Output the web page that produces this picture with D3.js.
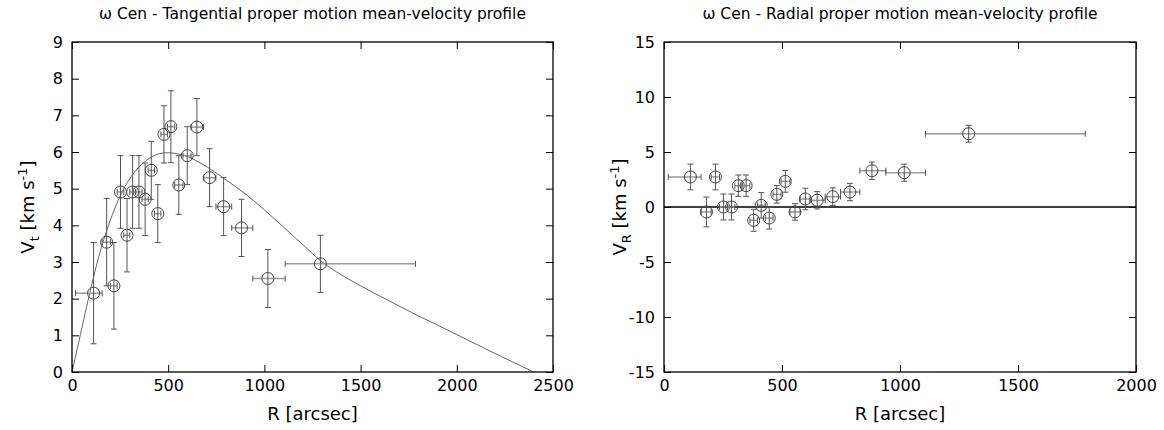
<!DOCTYPE html>
<html>
<head>
<meta charset="utf-8">
<script src="https://cdn.jsdelivr.net/npm/d3@7"></script>
<style>
  body { margin: 0; background: #fff; }
  text { font-family: "DejaVu Sans", sans-serif; fill: #000; }
</style>
</head>
<body>
<svg id="chart" width="1164" height="430"></svg>
<script>
// radial bins shared by both profiles
const binR = [112, 180, 218, 252, 286, 315, 348, 380, 412, 446, 478, 514, 555, 599, 649, 715, 788, 881, 1018, 1291];
const binEdges = [18, 157, 200, 235, 269, 300, 331, 364, 396, 429, 462, 496, 534, 577, 619, 683, 748, 830, 940, 1108, 1785];

// tangential mean velocity
const tanV = [2.15, 3.54, 2.35, 4.91, 3.73, 4.91, 4.91, 4.71, 5.50, 4.32, 6.48, 6.69, 5.10, 5.90, 6.68, 5.30, 4.51, 3.93, 2.55, 2.95];
const tanErr = [1.38, 1.19, 1.18, 0.99, 1.0, 0.99, 0.99, 0.99, 0.79, 0.79, 0.78, 0.98, 0.8, 0.79, 0.78, 0.79, 0.79, 0.78, 0.79, 0.78];

// model curve
const modelR = [0, 50, 100, 150, 200, 250, 300, 350, 400, 450, 500, 550, 600, 650, 700, 800, 900, 1000, 1100, 1200, 1300, 1400, 1500, 1600, 1700, 1800, 1900, 2000, 2100, 2200, 2300, 2400];
const modelV = [0, 1.17, 2.33, 3.35, 4.15, 4.8, 5.27, 5.6, 5.82, 5.95, 5.98, 5.95, 5.88, 5.75, 5.6, 5.24, 4.86, 4.42, 3.95, 3.47, 3.0, 2.65, 2.35, 2.07, 1.8, 1.53, 1.28, 1.02, 0.76, 0.5, 0.25, 0];

// radial mean velocity
const radV = [2.73, -0.45, 2.73, 0, 0, 1.94, 1.94, -1.21, 0.15, -1.0, 1.15, 2.33, -0.45, 0.73, 0.61, 0.94, 1.36, 3.30, 3.12, 6.66];
const radErr = [1.17, 1.35, 1.17, 1.18, 1.18, 0.97, 0.97, 1.0, 1.16, 1.0, 0.8, 0.99, 0.75, 0.98, 0.79, 0.8, 0.79, 0.79, 0.78, 0.77];

const tanXTicks = [0, 500, 1000, 1500, 2000, 2500];
const tanYTicks = [0, 1, 2, 3, 4, 5, 6, 7, 8, 9];
const radXTicks = [0, 500, 1000, 1500, 2000];
const radYTicks = [-15, -10, -5, 0, 5, 10, 15];

const svg = d3.select("#chart");
const plain = d => String(d);

function panel(opts) {
  const { left, right, top, bottom } = opts.box;
  const x = d3.scaleLinear().domain(opts.xDomain).range([left, right]);
  const y = d3.scaleLinear().domain(opts.yDomain).range([bottom, top]);
  const g = svg.append("g");

  // ticks on all four sides, pointing inward
  const tick = 7;
  g.append("g").attr("transform", `translate(0,${bottom})`)
    .call(d3.axisBottom(x).tickValues(opts.xTicks).tickFormat(plain).tickSizeInner(-tick).tickSizeOuter(0).tickPadding(8))
    .call(a => a.selectAll("text").style("font-size", "16px").attr("font-family", null));
  g.append("g").attr("transform", `translate(0,${top})`)
    .call(d3.axisTop(x).tickValues(opts.xTicks).tickSizeInner(-tick).tickSizeOuter(0).tickFormat(""));
  g.append("g").attr("transform", `translate(${left},0)`)
    .call(d3.axisLeft(y).tickValues(opts.yTicks).tickFormat(plain).tickSizeInner(-tick).tickSizeOuter(0).tickPadding(9))
    .call(a => a.selectAll("text").style("font-size", "16px").attr("font-family", null));
  g.append("g").attr("transform", `translate(${right},0)`)
    .call(d3.axisRight(y).tickValues(opts.yTicks).tickSizeInner(-tick).tickSizeOuter(0).tickFormat(""));
  g.selectAll(".domain").remove();
  g.selectAll(".tick line").attr("stroke", "#000");

  if (opts.zeroLine) {
    g.append("line")
      .attr("x1", left).attr("x2", right)
      .attr("y1", y(0)).attr("y2", y(0))
      .attr("stroke", "#000").attr("stroke-width", 1.3);
  }

  if (opts.modelR) {
    const line = d3.line().x(d => x(d[0])).y(d => y(d[1])).curve(d3.curveMonotoneX);
    g.append("path")
      .datum(opts.modelR.map((r, i) => [r, opts.modelV[i]]))
      .attr("d", line)
      .attr("fill", "none")
      .attr("stroke", "#555")
      .attr("stroke-width", 0.9);
  }

  const pts = opts.r.map((r, i) => ({
    r, v: opts.v[i], e: opts.err[i], lo: opts.edges[i], hi: opts.edges[i + 1]
  }));
  const cap = 3;
  const pg = g.append("g");
  pts.forEach(d => {
    const cx = x(d.r), cy = y(d.v);
    // horizontal bar (bin width)
    pg.append("line").attr("x1", x(d.lo)).attr("x2", x(d.hi)).attr("y1", cy).attr("y2", cy)
      .attr("stroke", "#999").attr("stroke-width", 1.5);
    [d.lo, d.hi].forEach(b => pg.append("line")
      .attr("x1", x(b)).attr("x2", x(b)).attr("y1", cy - cap).attr("y2", cy + cap)
      .attr("stroke", "#555").attr("stroke-width", 1));
    // vertical bar
    pg.append("line").attr("x1", cx).attr("x2", cx).attr("y1", y(d.v - d.e)).attr("y2", y(d.v + d.e))
      .attr("stroke", "#555").attr("stroke-width", 1);
    [d.v - d.e, d.v + d.e].forEach(b => pg.append("line")
      .attr("x1", cx - cap).attr("x2", cx + cap).attr("y1", y(b)).attr("y2", y(b))
      .attr("stroke", "#555").attr("stroke-width", 1));
    pg.append("circle").attr("cx", cx).attr("cy", cy).attr("r", 6)
      .attr("fill", "none").attr("stroke", "#444").attr("stroke-width", 1);
  });

  // frame
  g.append("rect")
    .attr("x", left).attr("y", top)
    .attr("width", right - left).attr("height", bottom - top)
    .attr("fill", "none").attr("stroke", "#000").attr("stroke-width", 1.3);

  // title
  g.append("text")
    .attr("x", (left + right) / 2).attr("y", 19)
    .attr("text-anchor", "middle")
    .style("font-size", "15.5px")
    .text(opts.title);

  // x label
  g.append("text")
    .attr("x", (left + right) / 2).attr("y", 420)
    .attr("text-anchor", "middle")
    .style("font-size", "18px")
    .text("R [arcsec]");

  // y label with sub/superscripts
  const yl = g.append("text")
    .attr("transform", `translate(${opts.yLabelX},${(top + bottom) / 2}) rotate(-90)`)
    .attr("text-anchor", "middle")
    .style("font-size", "18px");
  yl.append("tspan").text("V");
  yl.append("tspan").attr("dy", 5).style("font-size", "13px").text(opts.sub);
  yl.append("tspan").attr("dy", -5).text(" [km s");
  yl.append("tspan").attr("dy", -7).style("font-size", "13px").text("-1");
  yl.append("tspan").attr("dy", 7).text("]");
}

panel({
  box: { left: 72, right: 553, top: 42, bottom: 372 },
  xDomain: [0, 2500], yDomain: [0, 9],
  xTicks: tanXTicks, yTicks: tanYTicks,
  r: binR, v: tanV, err: tanErr, edges: binEdges,
  modelR, modelV,
  title: "\u03c9 Cen - Tangential proper motion mean-velocity profile",
  yLabelX: 34, sub: "t"
});

panel({
  box: { left: 664, right: 1136, top: 42, bottom: 372 },
  xDomain: [0, 2000], yDomain: [-15, 15],
  xTicks: radXTicks, yTicks: radYTicks,
  r: binR, v: radV, err: radErr, edges: binEdges,
  zeroLine: true,
  title: "\u03c9 Cen - Radial proper motion mean-velocity profile",
  yLabelX: 626, sub: "R"
});
</script>
</body>
</html>
